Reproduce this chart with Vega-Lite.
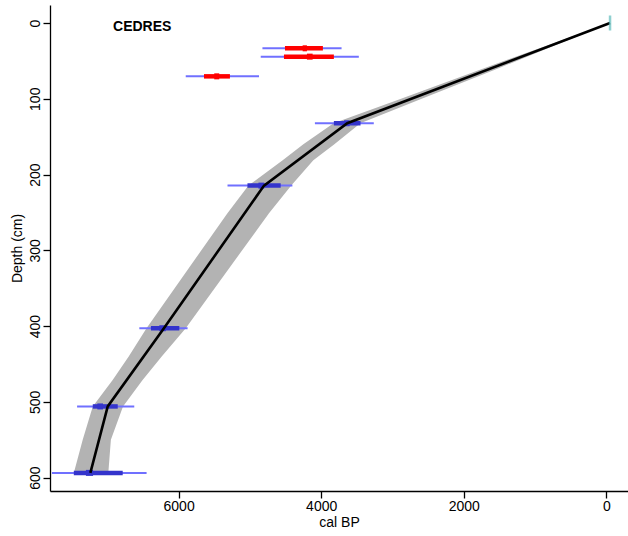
{
  "$schema": "https://vega.github.io/schema/vega-lite/v6.json",
  "width": 578,
  "height": 486,
  "autosize": {"type": "none"},
  "padding": {"left": 50, "top": 5, "right": 0, "bottom": 45},
  "background": "white",
  "config": {
    "view": {"stroke": null},
    "font": "Liberation Sans",
    "axis": {
      "grid": false,
      "domainColor": "black",
      "domainWidth": 1.3,
      "tickColor": "black",
      "tickWidth": 1.3,
      "tickSize": 7,
      "labelColor": "black",
      "labelFont": "Liberation Sans",
      "labelFontSize": 14,
      "titleColor": "black",
      "titleFont": "Liberation Sans",
      "titleFontSize": 14,
      "titleFontWeight": "normal"
    }
  },
  "datasets": {
    "model": [
      {"depth": 0, "age": -52},
      {"depth": 132.3, "age": 3634},
      {"depth": 214.6, "age": 4802},
      {"depth": 402.8, "age": 6206},
      {"depth": 506, "age": 6994},
      {"depth": 593.7, "age": 7238}
    ],
    "envelope": [
      {"depth": 0, "min": -60, "max": -45},
      {"depth": 30, "min": 735, "max": 840},
      {"depth": 60, "min": 1520, "max": 1725},
      {"depth": 100, "min": 2590, "max": 2880},
      {"depth": 132.3, "min": 3450, "max": 3826},
      {"depth": 160, "min": 3815, "max": 4250},
      {"depth": 181, "min": 4110, "max": 4540},
      {"depth": 214.6, "min": 4420, "max": 5020},
      {"depth": 251, "min": 4732, "max": 5315},
      {"depth": 402.8, "min": 5900, "max": 6450},
      {"depth": 440, "min": 6237, "max": 6700},
      {"depth": 471, "min": 6505, "max": 6925},
      {"depth": 506, "min": 6780, "max": 7204},
      {"depth": 550, "min": 6950, "max": 7345},
      {"depth": 593.7, "min": 6986, "max": 7470}
    ],
    "dates": [
      {"depth": 33.4, "from": 3714, "to": 4824, "hpdFrom": 3976, "hpdTo": 4508, "modeFrom": 4200, "modeTo": 4260, "status": "outlier"},
      {"depth": 44.4, "from": 3472, "to": 4848, "hpdFrom": 3822, "hpdTo": 4522, "modeFrom": 4120, "modeTo": 4200, "status": "outlier"},
      {"depth": 70.4, "from": 4872, "to": 5900, "hpdFrom": 5280, "hpdTo": 5644, "modeFrom": 5430, "modeTo": 5500, "status": "outlier"},
      {"depth": 132.3, "from": 3262, "to": 4088, "hpdFrom": 3448, "hpdTo": 3822, "modeFrom": 3600, "modeTo": 3680, "status": "accepted"},
      {"depth": 214.6, "from": 4404, "to": 5314, "hpdFrom": 4568, "hpdTo": 5034, "modeFrom": 4800, "modeTo": 4880, "status": "accepted"},
      {"depth": 402.8, "from": 5874, "to": 6551, "hpdFrom": 5990, "hpdTo": 6388, "modeFrom": 6180, "modeTo": 6270, "status": "accepted"},
      {"depth": 506, "from": 6622, "to": 7424, "hpdFrom": 6854, "hpdTo": 7204, "modeFrom": 7060, "modeTo": 7140, "status": "accepted"},
      {"depth": 593.7, "from": 6449, "to": 7777, "hpdFrom": 6784, "hpdTo": 7470, "modeFrom": 7200, "modeTo": 7300, "status": "accepted"}
    ],
    "surface": [
      {"depth": 0, "age": -52}
    ]
  },
  "layer": [
    {
      "data": {"name": "envelope"},
      "mark": {"type": "area", "orient": "horizontal", "color": "#b3b3b3"},
      "encoding": {
        "y": {
          "field": "depth",
          "type": "quantitative",
          "scale": {"domain": [-23.75, 617.6], "reverse": true, "nice": false, "zero": false},
          "axis": {
            "values": [0, 100, 200, 300, 400, 500, 600],
            "format": "d",
            "title": "Depth (cm)",
            "labelAngle": -90,
            "labelAlign": "center",
            "labelBaseline": "bottom",
            "labelPadding": 1,
            "titlePadding": 4
          }
        },
        "x": {
          "field": "min",
          "type": "quantitative",
          "scale": {"domain": [-304, 7804], "reverse": true, "nice": false, "zero": false},
          "axis": {
            "values": [0, 2000, 4000, 6000],
            "format": "d",
            "title": "cal BP",
            "labelPadding": 1,
            "titlePadding": 2
          }
        },
        "x2": {"field": "max"}
      }
    },
    {
      "data": {"name": "dates"},
      "mark": {"type": "rule", "color": "#7070ff", "strokeWidth": 2},
      "encoding": {
        "y": {"field": "depth", "type": "quantitative"},
        "x": {"field": "from", "type": "quantitative"},
        "x2": {"field": "to"}
      }
    },
    {
      "data": {"name": "dates"},
      "mark": {"type": "rule", "strokeWidth": 4.5},
      "encoding": {
        "y": {"field": "depth", "type": "quantitative"},
        "x": {"field": "hpdFrom", "type": "quantitative"},
        "x2": {"field": "hpdTo"},
        "color": {
          "field": "status",
          "type": "nominal",
          "scale": {"domain": ["accepted", "outlier"], "range": ["#3434cc", "#ff0000"]},
          "legend": null
        }
      }
    },
    {
      "data": {"name": "dates"},
      "mark": {"type": "rule", "strokeWidth": 6},
      "encoding": {
        "y": {"field": "depth", "type": "quantitative"},
        "x": {"field": "modeFrom", "type": "quantitative"},
        "x2": {"field": "modeTo"},
        "color": {
          "field": "status",
          "type": "nominal",
          "scale": {"domain": ["accepted", "outlier"], "range": ["#3434cc", "#ff0000"]},
          "legend": null
        }
      }
    },
    {
      "data": {"name": "model"},
      "mark": {"type": "line", "color": "black", "strokeWidth": 2.6},
      "encoding": {
        "y": {"field": "depth", "type": "quantitative"},
        "x": {"field": "age", "type": "quantitative"},
        "order": {"field": "depth", "type": "quantitative"}
      }
    },
    {
      "data": {"name": "surface"},
      "mark": {"type": "tick", "orient": "vertical", "color": "#5fbcbc", "size": 15, "thickness": 2.5},
      "encoding": {
        "y": {"field": "depth", "type": "quantitative"},
        "x": {"field": "age", "type": "quantitative"}
      }
    },
    {
      "data": {"values": [{"site": "CEDRES"}]},
      "mark": {"type": "text", "align": "left", "baseline": "middle", "fontSize": 14, "fontWeight": "bold", "font": "Liberation Sans", "color": "black"},
      "encoding": {
        "text": {"field": "site"},
        "x": {"datum": 6920},
        "y": {"datum": 5.3}
      }
    }
  ]
}
